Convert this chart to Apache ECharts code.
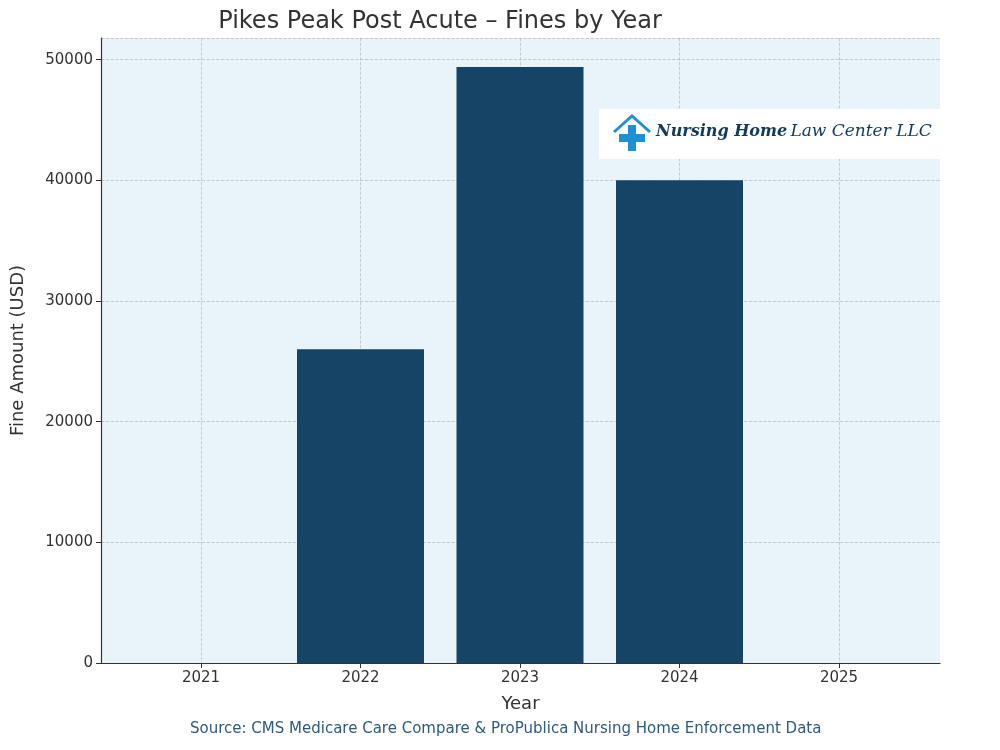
<!DOCTYPE html>
<html>
<head>
<meta charset="utf-8">
<script src="https://cdn.jsdelivr.net/npm/echarts@6/dist/echarts.min.js"></script>
<style>html,body{margin:0;background:#fff}#chart{width:1000px;height:750px}</style>
</head>
<body>
<div id="chart"></div>
<script>
const years = [2021, 2022, 2023, 2024, 2025];
const fines = [0, 26000, 49400, 40000, 0];
const yMax = 51800;

const chart = echarts.init(document.getElementById("chart"), null, { renderer: "canvas" });
const font = "DejaVu Sans";
const dashed = { show: true, lineStyle: { color: "#bbb", type: "dashed", width: 0.8 } };
chart.setOption({
  backgroundColor: "#ffffff",
  animation: false,
  title: {
    text: "Pikes Peak Post Acute \u2013 Fines by Year",
    left: 435, top: 5, textAlign: "center",
    textStyle: { fontFamily: font, fontSize: 24, fontWeight: "normal", color: "#333" }
  },
  grid: [
    { left: 101, right: 60, top: 38, bottom: 87, show: true, backgroundColor: "#e8f3fa", borderWidth: 0 },
    { left: 201, right: 161, top: 38, bottom: 87 }
  ],
  xAxis: [
    {
      gridIndex: 0, type: "value", min: 0, max: 1,
      name: "Year", nameLocation: "middle", nameGap: 32,
      nameTextStyle: { fontFamily: font, fontSize: 18, color: "#333" },
      axisLine: { lineStyle: { color: "#333", width: 1.2 } },
      axisTick: { show: false }, axisLabel: { show: false }, splitLine: { show: false }
    },
    {
      gridIndex: 1, type: "value", min: 2021, max: 2025, interval: 1,
      axisLine: { show: false },
      axisTick: { show: true, length: 5, lineStyle: { color: "#333" } },
      axisLabel: { fontFamily: font, fontSize: 15, color: "#333", margin: 8, formatter: (v) => String(v) },
      splitLine: dashed
    }
  ],
  yAxis: [
    {
      gridIndex: 0, type: "value", min: 0, max: yMax, interval: 10000,
      name: "Fine Amount (USD)", nameLocation: "middle", nameGap: 74,
      nameTextStyle: { fontFamily: font, fontSize: 18, color: "#333" },
      axisLine: { show: true, lineStyle: { color: "#333", width: 1.2 } },
      axisTick: { show: true, length: 5, lineStyle: { color: "#333" } },
      axisLabel: { fontFamily: font, fontSize: 15, color: "#333", showMaxLabel: false, formatter: (v) => String(v) },
      splitLine: dashed
    },
    { gridIndex: 1, type: "value", min: 0, max: yMax, show: false }
  ],
  series: [{
    type: "bar", xAxisIndex: 1, yAxisIndex: 1, clip: false,
    data: years.map((y, i) => [y, fines[i]]),
    barWidth: 127,
    itemStyle: { color: "#154466" },
    z: 1
  }],
  graphic: [
    { type: "rect", left: 599, top: 109, shape: { width: 341, height: 50 }, style: { fill: "#ffffff" }, z: 10 },
    { type: "text", left: 656, top: 123, z: 11,
      style: { text: "{b|Nursing Home} {n|Law Center LLC}", rich: {
        b: { fontFamily: "DejaVu Serif", fontSize: 16, fontStyle: "italic", fontWeight: "bold", fill: "#123a5a" },
        n: { fontFamily: "DejaVu Serif", fontSize: 17, fontStyle: "italic", fill: "#123a5a" } } } },
    { type: "polyline", z: 11, shape: { points: [[614, 132], [632, 116], [650, 132]] },
      style: { stroke: "#1e90d6", lineWidth: 3, fill: null } },
    { type: "rect", z: 11, shape: { x: 628, y: 125, width: 8, height: 26 }, style: { fill: "#1e90d6" } },
    { type: "rect", z: 11, shape: { x: 619, y: 134, width: 26, height: 8 }, style: { fill: "#1e90d6" } },
    { type: "text", left: 190, top: 722,
      style: { text: "Source: CMS Medicare Care Compare & ProPublica Nursing Home Enforcement Data",
        fontFamily: font, fontSize: 15, fill: "#2d5a80" } }
  ]
});
</script>
</body>
</html>
